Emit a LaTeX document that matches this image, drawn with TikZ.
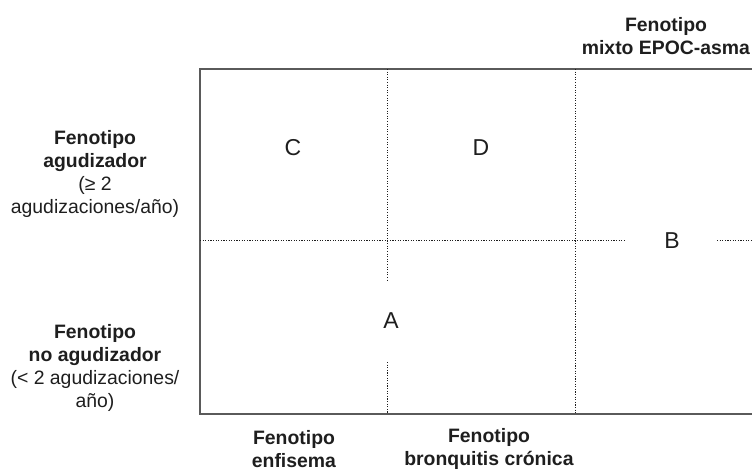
\documentclass[tikz,border=0pt]{standalone}
\usepackage{fontspec}
\setmainfont{Liberation Sans}
\definecolor{boxgray}{HTML}{5A5A5A}
\definecolor{inkgray}{HTML}{1E1E1E}
\tikzset{
  frame/.style={line width=1.6pt, color=boxgray},
  dotline/.style={line width=1pt, color=inkgray, dash pattern=on 1.1pt off 1.5pt},
  phenolabel/.style={align=center, text=inkgray, inner sep=0pt,
    font=\fontsize{19.4}{23}\selectfont},
  quadlabel/.style={text=inkgray, inner sep=0pt, font=\fontsize{23}{26}\selectfont}
}
\begin{document}
\begin{tikzpicture}[x=1pt, y=-1pt]
  \useasboundingbox (0, 0) rectangle (752, 470);
  % lines
  \draw[frame] (752, 69) -- (200, 69) -- (200, 414) -- (752, 414);
  \draw[dotline] (387, 69) -- (387, 280);
  \draw[dotline] (387, 362) -- (387, 414);
  \draw[dotline] (575, 69) -- (575, 414);
  \draw[dotline] (200, 241) -- (625, 241);
  \draw[dotline] (717, 241) -- (752, 241);
  % nodes
  \node[quadlabel] (quadC) at (293, 148) {C};
  \node[quadlabel] (quadD) at (481, 148) {D};
  \node[quadlabel] (quadA) at (391, 321) {A};
  \node[quadlabel] (quadB) at (672, 241) {B};
  \node[phenolabel] (agud) at (95, 174) {\textbf{Fenotipo}\\\textbf{agudizador}\\(≥ 2\\agudizaciones/año)};
  \node[phenolabel] (noagud) at (95, 368) {\textbf{Fenotipo}\\\textbf{no agudizador}\\(< 2 agudizaciones/\\año)};
  \node[phenolabel] (mixto) at (666, 36) {\textbf{Fenotipo}\\\textbf{mixto EPOC-asma}};
  \node[phenolabel] (enfis) at (294, 449) {\textbf{Fenotipo}\\\textbf{enfisema}};
  \node[phenolabel] (bronq) at (489, 449) {\textbf{Fenotipo}\\\textbf{bronquitis crónica}};
\end{tikzpicture}
\end{document}
